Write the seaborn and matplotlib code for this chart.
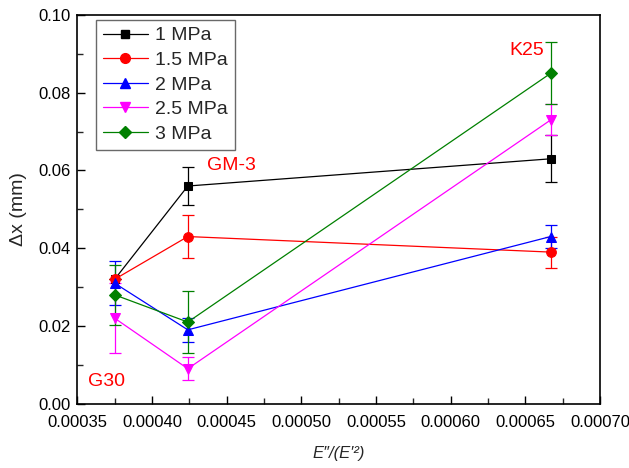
import numpy as np
import pandas as pd
import matplotlib
matplotlib.use("Agg")
import matplotlib.pyplot as plt
from matplotlib.ticker import AutoMinorLocator, MultipleLocator
from matplotlib.lines import Line2D
import seaborn as sns

# ---- data ----
x_vals = [0.000375, 0.000424, 0.000667]
series = ["1 MPa", "1.5 MPa", "2 MPa", "2.5 MPa", "3 MPa"]
y_1 = [0.032, 0.056, 0.063]
y_1_5 = [0.032, 0.043, 0.039]
y_2 = [0.031, 0.019, 0.043]
y_2_5 = [0.022, 0.009, 0.073]
y_3 = [0.028, 0.021, 0.085]
e_1 = [0.000, 0.005, 0.006]
e_1_5 = [0.000, 0.0055, 0.004]
e_2 = [0.0056, 0.003, 0.003]
e_2_5 = [0.009, 0.003, 0.004]
e_3 = [0.0077, 0.008, 0.008]
labels_txt = ["G30", "GM-3", "K25"]
labels_x = [0.0003695, 0.000453, 0.000651]
labels_y = [0.0057, 0.0612, 0.0909]

ys = [y_1, y_1_5, y_2, y_2_5, y_3]
es = [e_1, e_1_5, e_2, e_2_5, e_3]
colors = ["black", "red", "blue", "magenta", "#008000"]
markers = ["s", "o", "^", "v", "D"]
msizes = [6, 7, 7, 7.5, 6]

rows = []
for s, yv, ev in zip(series, ys, es):
    for xv, yy, ee in zip(x_vals, yv, ev):
        rows.append({"x": xv, "y": yy, "err": ee, "series": s})
df = pd.DataFrame(rows)

sns.set_style("ticks")
plt.rcParams["font.family"] = ["Liberation Sans", "DejaVu Sans"]
plt.rcParams["font.size"] = 12

fig = plt.figure(figsize=(6.29, 4.68), dpi=100)
ax = fig.add_axes([0.1229, 0.1374, 0.831, 0.8306])

for s, c, m, ms in zip(series, colors, markers, msizes):
    sub = df[df["series"] == s]
    ax.errorbar(sub["x"], sub["y"], yerr=sub["err"], fmt="none", ecolor=c,
                elinewidth=0.9, capsize=4, capthick=0.9, zorder=2)
    sns.lineplot(data=sub, x="x", y="y", color=c, marker=m, markersize=ms,
                 markeredgecolor=c, linewidth=0.9, ax=ax, zorder=3,
                 estimator=None, sort=False)

for t, tx, ty in zip(labels_txt, labels_x, labels_y):
    ax.text(tx, ty, t, color="red", fontsize=14, ha="center", va="center")

ax.set_xlim(0.00035, 0.00070)
ax.set_ylim(0.0, 0.10)
ax.xaxis.set_major_locator(MultipleLocator(0.00005))
ax.yaxis.set_major_locator(MultipleLocator(0.02))
ax.xaxis.set_major_formatter(matplotlib.ticker.FuncFormatter(lambda v, p: f"{v:.5f}"))
ax.yaxis.set_major_formatter(matplotlib.ticker.FuncFormatter(lambda v, p: f"{v:.2f}"))
ax.xaxis.set_minor_locator(AutoMinorLocator(2))
ax.yaxis.set_minor_locator(AutoMinorLocator(2))
ax.tick_params(axis="both", which="major", direction="in", length=6, width=1,
               labelsize=12, colors="black")
ax.tick_params(axis="x", which="major", pad=8)
ax.tick_params(axis="y", which="major", pad=5)
ax.tick_params(axis="both", which="minor", direction="in", length=4, width=1)
ax.tick_params(top=False, right=False, which="both")
for sp in ax.spines.values():
    sp.set_visible(True)
    sp.set_color("black")
    sp.set_linewidth(1.2)

ax.set_xlabel("E\u2033/(E\u2032\u00b2)", fontsize=12, style="italic", labelpad=12)
ax.set_ylabel("\u0394x (mm)", fontsize=14, labelpad=8)

handles = [Line2D([0], [0], color=c, marker=m, markersize=ms, linewidth=0.9)
           for c, m, ms in zip(colors, markers, msizes)]
leg = ax.legend(handles, series, loc="upper left", bbox_to_anchor=(0.036, 0.987),
                frameon=True, fancybox=False, edgecolor="#444444", fontsize=14,
                handlelength=2.3, handletextpad=0.4, labelspacing=0.36,
                borderpad=0.35, borderaxespad=0.0)
leg.get_frame().set_linewidth(1.0)

fig.savefig("out.png", dpi=100)
